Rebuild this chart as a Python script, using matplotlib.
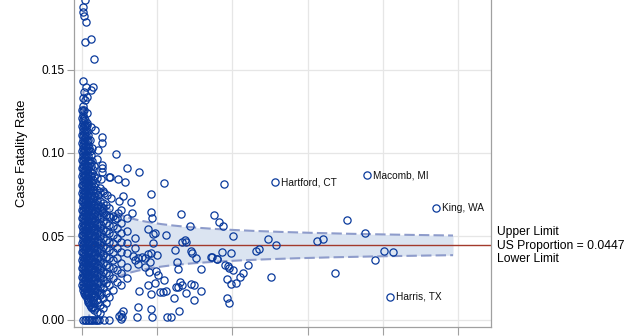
import matplotlib
matplotlib.use("Agg")
import matplotlib.pyplot as plt
import numpy as np

plt.rcParams["font.family"] = ["Liberation Sans", "DejaVu Sans"]

US_RATE = 0.0447
Z = 2.0

# dense cluster of small counties, one column of rates per case count
col_cases = [5, 12, 20, 28, 36, 45, 55, 65, 75, 85, 95, 105, 117, 130, 145, 160, 178, 195,
             215, 235, 255, 275, 320, 365, 410, 460, 520, 600]
col_rates = [
    [0.021, 0.026, 0.031, 0.036, 0.041, 0.046, 0.051, 0.056, 0.061, 0.066, 0.071, 0.076,
     0.081, 0.086, 0.091, 0.096, 0.101, 0.106, 0.111, 0.116, 0.121, 0.126],
    [0.018, 0.023, 0.028, 0.033, 0.038, 0.043, 0.048, 0.053, 0.058, 0.063, 0.068, 0.073,
     0.078, 0.083, 0.088, 0.093, 0.098, 0.103, 0.108, 0.113, 0.118, 0.123, 0.128, 0.133],
    [0.020, 0.025, 0.031, 0.035, 0.041, 0.045, 0.051, 0.055, 0.061, 0.065, 0.071, 0.075,
     0.081, 0.085, 0.091, 0.095, 0.100, 0.105, 0.110, 0.115, 0.120, 0.125],
    [0.016, 0.020, 0.026, 0.030, 0.036, 0.040, 0.046, 0.050, 0.056, 0.060, 0.066, 0.070,
     0.076, 0.080, 0.086, 0.090, 0.096, 0.101, 0.106, 0.111, 0.116, 0.121, 0.126],
    [0.017, 0.022, 0.027, 0.032, 0.037, 0.042, 0.047, 0.052, 0.057, 0.062, 0.067, 0.072,
     0.077, 0.082, 0.087, 0.092, 0.097, 0.102, 0.107, 0.112, 0.117],
    [0.015, 0.019, 0.024, 0.029, 0.034, 0.039, 0.044, 0.049, 0.054, 0.059, 0.064, 0.069,
     0.074, 0.079, 0.084, 0.089, 0.094, 0.099, 0.104, 0.109, 0.114, 0.120],
    [0.015, 0.020, 0.025, 0.029, 0.034, 0.038, 0.043, 0.048, 0.053, 0.057, 0.062, 0.067,
     0.072, 0.077, 0.082, 0.087, 0.093, 0.098, 0.104, 0.110, 0.116],
    [0.013, 0.017, 0.022, 0.027, 0.031, 0.036, 0.041, 0.046, 0.051, 0.055, 0.060, 0.065,
     0.070, 0.075, 0.080, 0.085, 0.090, 0.095, 0.101, 0.107, 0.113, 0.118],
    [0.012, 0.017, 0.022, 0.027, 0.032, 0.037, 0.042, 0.047, 0.052, 0.057, 0.062, 0.067,
     0.072, 0.077, 0.082, 0.088, 0.095, 0.102, 0.108],
    [0.011, 0.015, 0.020, 0.025, 0.030, 0.035, 0.040, 0.045, 0.050, 0.055, 0.060, 0.065,
     0.070, 0.075, 0.080, 0.085, 0.092, 0.098, 0.105, 0.111],
    [0.010, 0.016, 0.021, 0.026, 0.031, 0.036, 0.041, 0.046, 0.051, 0.056, 0.061, 0.066,
     0.071, 0.076, 0.081, 0.087, 0.096, 0.103],
    [0.009, 0.013, 0.018, 0.023, 0.028, 0.033, 0.038, 0.043, 0.048, 0.053, 0.058, 0.063,
     0.068, 0.073, 0.078, 0.083, 0.089, 0.094, 0.101, 0.108],
    [0.008, 0.015, 0.020, 0.025, 0.030, 0.035, 0.040, 0.045, 0.050, 0.055, 0.060, 0.065,
     0.070, 0.075, 0.080, 0.086, 0.092, 0.099],
    [0.007, 0.011, 0.016, 0.021, 0.026, 0.031, 0.036, 0.041, 0.046, 0.051, 0.056, 0.061,
     0.066, 0.071, 0.077, 0.082, 0.088, 0.095, 0.103],
    [0.008, 0.012, 0.018, 0.023, 0.028, 0.033, 0.038, 0.043, 0.048, 0.053, 0.058, 0.063,
     0.068, 0.073, 0.078, 0.084, 0.090],
    [0.006, 0.010, 0.014, 0.019, 0.024, 0.029, 0.034, 0.039, 0.044, 0.049, 0.054, 0.059,
     0.064, 0.069, 0.074, 0.080, 0.086, 0.092],
    [0.007, 0.015, 0.020, 0.025, 0.030, 0.035, 0.040, 0.045, 0.050, 0.055, 0.060, 0.065,
     0.070, 0.076, 0.082],
    [0.005, 0.012, 0.017, 0.022, 0.027, 0.032, 0.037, 0.042, 0.047, 0.052, 0.057, 0.062,
     0.067, 0.072, 0.078, 0.085],
    [0.011, 0.018, 0.023, 0.028, 0.033, 0.038, 0.043, 0.048, 0.053, 0.058, 0.064, 0.069,
     0.075],
    [0.004, 0.009, 0.015, 0.020, 0.025, 0.030, 0.035, 0.040, 0.045, 0.050, 0.055, 0.061,
     0.066, 0.071, 0.079],
    [0.016, 0.022, 0.027, 0.032, 0.037, 0.042, 0.047, 0.052, 0.057, 0.062, 0.068],
    [0.007, 0.013, 0.019, 0.024, 0.029, 0.034, 0.039, 0.044, 0.049, 0.054, 0.059, 0.064,
     0.070, 0.077],
    [0.010, 0.016, 0.022, 0.028, 0.033, 0.038, 0.043, 0.048, 0.053, 0.058, 0.063, 0.069],
    [0.014, 0.021, 0.027, 0.032, 0.037, 0.042, 0.047, 0.052, 0.057, 0.062, 0.067],
    [0.018, 0.025, 0.031, 0.036, 0.041, 0.046, 0.051, 0.056, 0.062],
    [0.023, 0.030, 0.037, 0.043, 0.049, 0.055, 0.061],
    [0.021, 0.028, 0.034, 0.041, 0.047, 0.052, 0.058, 0.066],
    [0.025, 0.032, 0.040, 0.046, 0.053, 0.061],
]

# counties with no deaths
zero_cases = [20, 40, 60, 80, 100, 120, 140, 160, 180, 200, 230, 293, 355]

# high-rate small counties
top_cases = [10, 25, 40, 18, 18, 27, 53, 40, 116, 164, 18, 53, 150, 116, 31, 62, 40, 71,
             173, 116, 71, 262, 195]
top_rates = [0.196, 0.200, 0.1916, 0.1876, 0.1846, 0.182, 0.1784, 0.1663, 0.1681, 0.1561,
             0.1431, 0.1393, 0.1393, 0.1377, 0.1363, 0.1337, 0.1317, 0.1238,
             0.1138, 0.1158, 0.1168, 0.1098, 0.0962]

# the sparser counties further out
cases = [270, 217, 452, 270, 270, 270, 762, 359, 483, 576, 1095, 249, 239, 293, 336, 549,
         382, 496, 656, 918, 275, 262, 479, 665, 918, 931, 372, 439, 878, 975, 1115, 709,
         594, 372,
         705, 948, 948, 674, 705, 749, 794, 838, 882, 912, 993, 749, 838, 904, 895, 984,
         1015, 971, 882, 1037, 1081, 762, 749, 918, 549, 528, 514, 727, 931, 1134, 496,
         519, 912,
         1316, 1436, 1370, 1334, 1387, 1237, 1449, 1458, 1512, 1263, 1281, 1715, 1795,
         1085, 1303, 1334, 1281, 1250, 1445, 1494, 1379, 1120, 1227, 1494, 1294, 1183,
         1888, 1759, 1826, 1879, 2012, 1866, 1986, 1725, 1800, 1902, 1941, 1955, 2012,
         2203, 2145, 2105, 2052, 1981, 1933, 1928, 1959, 2314, 2358, 2477, 2575, 2513,
         3129, 3209, 3364, 3524, 3768, 3896, 4020, 4131, 1578, 1578]
rates = [0.1062, 0.1018, 0.0992, 0.0928, 0.0908, 0.0884, 0.0884, 0.0854, 0.0842, 0.0826,
         0.0818, 0.0842, 0.0765, 0.0759, 0.0749, 0.0743, 0.0729, 0.0713, 0.0705, 0.0754,
         0.0669, 0.0655, 0.0643, 0.0643, 0.0649, 0.0609, 0.0615, 0.0603, 0.0545, 0.0519,
         0.0509, 0.0489, 0.0908, 0.0858,
         0.0429, 0.0515, 0.0463, 0.0383, 0.0359, 0.0369, 0.0379, 0.0373, 0.0395, 0.0403,
         0.0389, 0.0335, 0.0319, 0.0349, 0.0289, 0.0295, 0.0269, 0.0220, 0.0210, 0.0170,
         0.0166, 0.0175, 0.0080, 0.0064, 0.0054, 0.0016, 0.0008, 0.0020, 0.0016, 0.0016,
         0.0024, 0.0036, 0.0156,
         0.0635, 0.0561, 0.0479, 0.0465, 0.0469, 0.0419, 0.0415, 0.0403, 0.0369, 0.0349,
         0.0304, 0.0379, 0.0365, 0.0240, 0.0226, 0.0210, 0.0200, 0.0196, 0.0216, 0.0210,
         0.0160, 0.0172, 0.0130, 0.0120, 0.0054, 0.0016,
         0.0814, 0.0627, 0.0587, 0.0561, 0.0501, 0.0405, 0.0399, 0.0375, 0.0363, 0.0329,
         0.0323, 0.0311, 0.0297, 0.0327, 0.0279, 0.0255, 0.0220, 0.0216, 0.0246, 0.0132,
         0.0100, 0.0411, 0.0423, 0.0483, 0.0447, 0.0255, 0.0473, 0.0483, 0.0279, 0.0597,
         0.0519, 0.0357, 0.0411, 0.0405, 0.0303, 0.0172]

label_names = ["Hartford, CT", "Macomb, MI", "King, WA", "Harris, TX"]
label_cases = [2571, 3794, 4712, 4100]
label_rates = [0.0824, 0.0868, 0.0669, 0.0138]

BLUE = "#0a3a9c"

fig = plt.figure(figsize=(6.4, 3.36), dpi=100)
ax = fig.add_axes([74 / 640, 9 / 336, 417 / 640, 347 / 336])

# funnel limits around the US proportion
n = np.linspace(20, 4934, 600)
se = np.sqrt(US_RATE * (1 - US_RATE) / n)
upper = US_RATE + Z * se
lower = np.clip(US_RATE - Z * se, 0, None)
ax.fill_between(n, lower, upper, color="#dbe4f1", lw=0, zorder=1)
ax.plot(n, upper, color="#8e9ccb", lw=1.5, dashes=(5, 2), zorder=2)
ax.plot(n, lower, color="#8e9ccb", lw=1.5, dashes=(5, 2), zorder=2)
ax.axhline(US_RATE, color="#a33a2c", lw=1, zorder=2)

mk = dict(ls="none", marker="o", ms=5.2, mew=0.9, mfc="none", mec=BLUE, zorder=3)
for c, rs in zip(col_cases, col_rates):
    ax.plot([c] * len(rs), rs, **mk)
ax.plot(zero_cases, [0] * len(zero_cases), **mk)
ax.plot(top_cases, top_rates, **mk)
ax.plot(cases, rates, **mk)
ax.plot(label_cases, label_rates, **mk)
for name, c, r in zip(label_names, label_cases, label_rates):
    ax.annotate(name, (c, r), xytext=(4, 0), textcoords="offset points",
                va="center", ha="left", fontsize=7.3, color="#111111")

ax.set_xlim(-106, 5439)
ax.set_ylim(-0.0042, 0.2036)
ax.set_xticks(range(0, 6000, 1000))
ax.set_yticks([0.0, 0.05, 0.10, 0.15])
ax.set_yticklabels(["0.00", "0.05", "0.10", "0.15"])
ax.tick_params(axis="x", labelbottom=False, length=6, color="#a0a0a0", width=0.8)
ax.tick_params(axis="y", labelsize=8.6, length=5, color="#a0a0a0", width=0.8, pad=2)
ax.grid(True, color="#e6e6e6", lw=0.9, zorder=0)
ax.set_axisbelow(True)
for side in ["left", "right", "bottom", "top"]:
    ax.spines[side].set_color("#a0a0a0")
    ax.spines[side].set_linewidth(0.9)
ax.set_ylabel("Case Fatality Rate", fontsize=9.4)
ax.yaxis.set_label_coords(-46 / 417, (336 - 153 - 9) / 347)

for txt, y in [("Upper Limit", 232), ("US Proportion = 0.0447", 245.5), ("Lower Limit", 259)]:
    fig.text(497 / 640, 1 - y / 336, txt, fontsize=8.7, va="center", ha="left")

fig.savefig("out.png", dpi=100)
